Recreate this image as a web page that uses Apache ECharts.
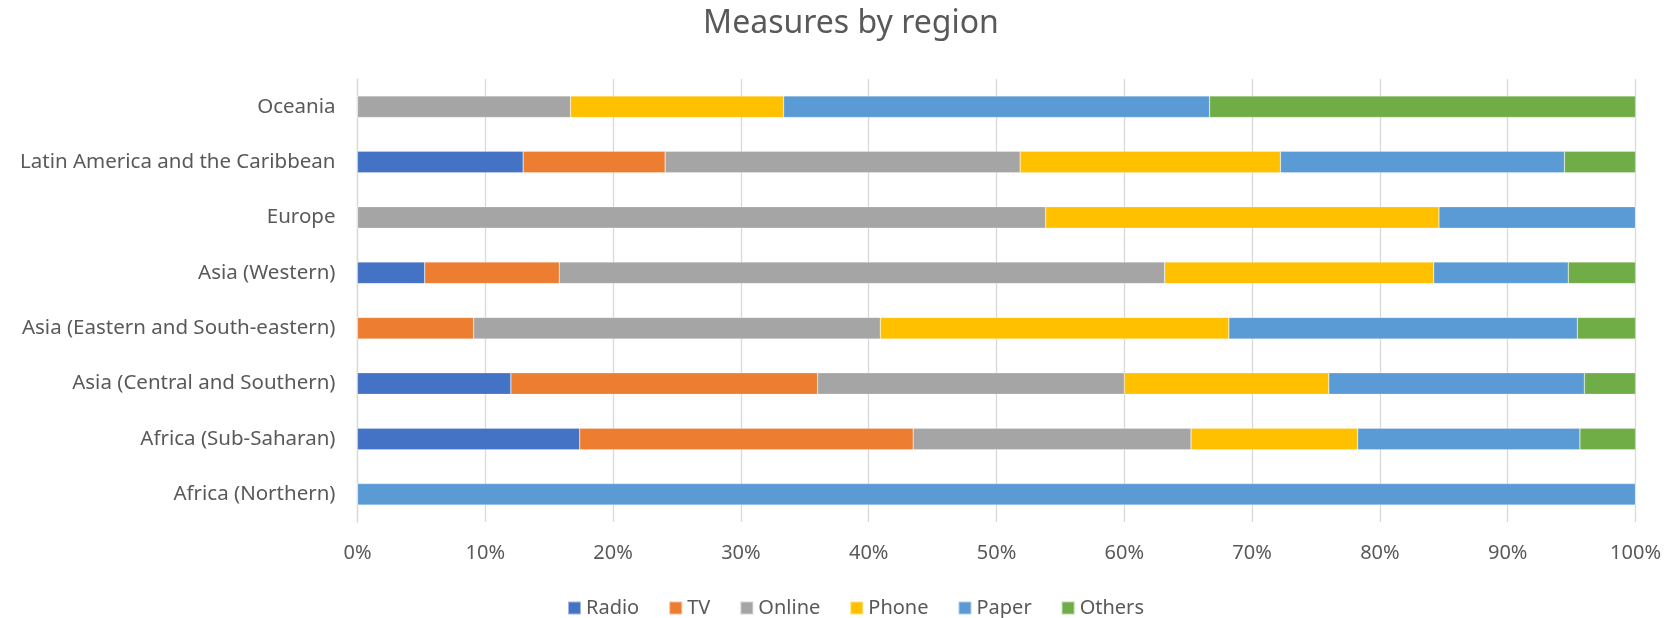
<!DOCTYPE html>
<html>
<head>
<meta charset="utf-8">
<script src="https://cdn.jsdelivr.net/npm/echarts@6/dist/echarts.min.js"></script>
<style>
  html, body { margin: 0; padding: 0; background: #fff; }
  #chart { width: 1664px; height: 618px; }
</style>
</head>
<body>
<div id="chart"></div>
<script>
// categories bottom -> top (category axis draws first item at the bottom)
const regions = [
  'Africa (Northern)',
  'Africa (Sub-Saharan)',
  'Asia (Central and Southern)',
  'Asia (Eastern and South-eastern)',
  'Asia (Western)',
  'Europe',
  'Latin America and the Caribbean',
  'Oceania'
];

// share of measures, in %
const radio = [0, 17.39, 12, 0, 5.26, 0, 12.96, 0];
const tv = [0, 26.09, 24, 9.09, 10.53, 0, 11.11, 0];
const online = [0, 21.74, 24, 31.82, 47.37, 53.85, 27.78, 16.67];
const phone = [0, 13.04, 16, 27.27, 21.05, 30.77, 20.37, 16.67];
const paper = [100, 17.39, 20, 27.27, 10.53, 15.38, 22.22, 33.33];
const others = [0, 4.35, 4, 4.55, 5.26, 0, 5.56, 33.33];

const seriesNames = ['Radio', 'TV', 'Online', 'Phone', 'Paper', 'Others'];
const seriesData = [radio, tv, online, phone, paper, others];
const colors = ['#4472c4', '#ed7d31', '#a5a5a5', '#ffc000', '#5b9bd5', '#70ad47'];

const font = 'Noto Sans';
const textColor = '#595959';

const chart = echarts.init(document.getElementById('chart'));
chart.setOption({
  animation: false,
  color: colors,
  title: {
    text: 'Measures by region',
    left: 846,
    top: 3,
    textAlign: 'center',
    textStyle: { fontFamily: font, fontSize: 32, fontWeight: 'normal', color: textColor }
  },
  legend: {
    data: seriesNames,
    top: 593,
    left: 562,
    icon: 'rect',
    itemWidth: 13,
    itemHeight: 13,
    itemGap: 29,
    textStyle: { fontFamily: font, fontSize: 20, color: textColor }
  },
  grid: { left: 357.5, right: 27, top: 79, bottom: 96 },
  xAxis: {
    type: 'value',
    min: 0,
    max: 100,
    interval: 10,
    axisLine: { show: false },
    axisTick: { show: false },
    axisLabel: {
      formatter: '{value}%',
      fontFamily: font,
      fontSize: 20,
      color: textColor,
      margin: 21
    },
    splitLine: { lineStyle: { color: '#d9d9d9', width: 1.3 } }
  },
  yAxis: {
    type: 'category',
    data: regions,
    axisLine: { show: true, lineStyle: { color: '#d9d9d9', width: 1.3 } },
    axisTick: { show: false },
    axisLabel: {
      fontFamily: font,
      fontSize: 20.5,
      color: textColor,
      margin: 22
    }
  },
  series: seriesNames.map((name, i) => ({
    name,
    type: 'bar',
    stack: 'total',
    barWidth: '39%',
    data: seriesData[i],
    itemStyle: { borderColor: 'rgba(255,255,255,0.5)', borderWidth: 0.5 }
  }))
});
</script>
</body>
</html>
